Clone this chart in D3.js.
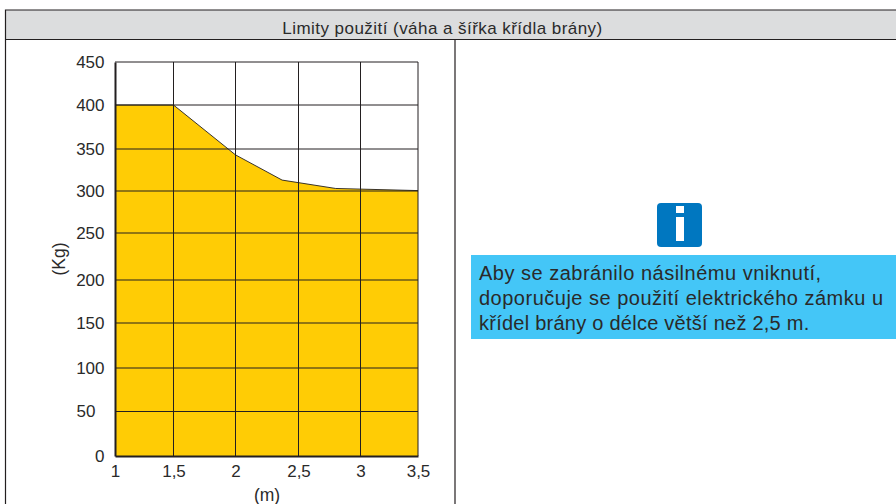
<!DOCTYPE html>
<html>
<head>
<meta charset="utf-8">
<script src="https://cdn.jsdelivr.net/npm/d3@7"></script>
<style>
    html, body { margin: 0; padding: 0; background: #fff; overflow: hidden; }
    text { font-family: "Liberation Sans", Arial, sans-serif; fill: #2a2a2a; }
</style>
</head>
<body>
<div id="chart"></div>
<script>
const xTicks = [1, 1.5, 2, 2.5, 3, 3.5];
const xTickLabels = ['1', '1,5', '2', '2,5', '3', '3,5'];
const yTicks = [0, 50, 100, 150, 200, 250, 300, 350, 400, 450];

// limit curve: gate leaf width (m) / weight (kg)
const leafWidth = [1, 1.5, 2, 2.37, 2.8, 3.5];
const leafWeight = [400, 400, 343, 313, 303, 300.5];

const title = 'Limity použití (váha a šířka křídla brány)';
const noteLines = [
    'Aby se zabránilo násilnému vniknutí,',
    'doporučuje se použití elektrického zámku u',
    'křídel brány o délce větší než 2,5 m.'
];

const width = 896, height = 504;
const lineColor = '#231f20';

const svg = d3.select('#chart').append('svg')
    .attr('width', width)
    .attr('height', height)
    .style('display', 'block');

// the printed grid is not quite even, so the scales follow the grid lines
const scaleX = d3.scaleLinear()
    .domain(xTicks)
    .range([115, 173.5, 235.5, 298.5, 360.5, 418]);

const scaleY = d3.scaleLinear()
    .domain(yTicks)
    .range([456, 411.5, 368, 323, 280, 233, 191, 149, 105, 62]);

// Table frame
svg.append('rect')
    .attr('x', 5.5).attr('y', 10)
    .attr('width', 900).attr('height', 30)
    .attr('fill', '#dcddde');

svg.append('path')
    .attr('d', 'M5.5,510V10H900M5.5,39.5H900M455,39.5V510')
    .attr('fill', 'none')
    .attr('stroke', lineColor)
    .attr('stroke-width', 1.2);

svg.append('text')
    .attr('x', 442.5)
    .attr('y', 33.5)
    .attr('text-anchor', 'middle')
    .style('font-size', '17px')
    .style('letter-spacing', '0.45px')
    .text(title);

// Area under the limit curve
const points = leafWidth.map((w, i) => [w, leafWeight[i]]);

const area = d3.area()
    .x(d => scaleX(d[0]))
    .y0(scaleY(0))
    .y1(d => scaleY(d[1]));

const line = d3.line()
    .x(d => scaleX(d[0]))
    .y(d => scaleY(d[1]));

svg.append('path')
    .datum(points)
    .attr('d', area)
    .attr('fill', '#ffcc05');

// Grid
const grid = svg.append('g')
    .attr('stroke', lineColor)
    .attr('stroke-width', 1);

grid.selectAll('.v')
    .data(xTicks.slice(1))
    .join('line')
    .attr('class', 'v')
    .attr('x1', d => scaleX(d)).attr('x2', d => scaleX(d))
    .attr('y1', scaleY(450)).attr('y2', scaleY(0));

grid.selectAll('.h')
    .data(yTicks.slice(1))
    .join('line')
    .attr('class', 'h')
    .attr('x1', scaleX(1)).attr('x2', scaleX(3.5))
    .attr('y1', d => scaleY(d)).attr('y2', d => scaleY(d));

svg.append('path')
    .datum(points)
    .attr('d', line)
    .attr('fill', 'none')
    .attr('stroke', lineColor)
    .attr('stroke-width', 0.9);

// Axes
const axisX = d3.axisBottom(scaleX)
    .tickValues(xTicks)
    .tickFormat((d, i) => xTickLabels[i])
    .tickSize(0)
    .tickPadding(9);

const axisY = d3.axisLeft(scaleY)
    .tickValues(yTicks)
    .tickSize(0)
    .tickPadding(10.5);

const gx = svg.append('g')
    .attr('transform', `translate(0, ${scaleY(0)})`)
    .call(axisX);

const gy = svg.append('g')
    .attr('transform', `translate(${scaleX(1)}, 0)`)
    .call(axisY);

gx.selectAll('text').style('font-size', '17px');
gy.selectAll('text').style('font-size', '17px');

// the 50 label sits further left in the original
gy.selectAll('.tick').filter(d => d === 50).select('text').attr('dx', -9);

gx.select('.domain').attr('stroke', lineColor).attr('stroke-width', 2);
gy.select('.domain').attr('stroke', lineColor).attr('stroke-width', 2);

svg.append('text')
    .attr('x', 267)
    .attr('y', 501)
    .attr('text-anchor', 'middle')
    .style('font-size', '17.5px')
    .text('(m)');

svg.append('text')
    .attr('transform', 'translate(65, 259) rotate(-90)')
    .attr('text-anchor', 'middle')
    .style('font-size', '17.5px')
    .text('(Kg)');

// Info icon and note
svg.append('rect')
    .attr('x', 657).attr('y', 203)
    .attr('width', 45).attr('height', 44)
    .attr('rx', 4)
    .attr('fill', '#0077c0');

svg.append('rect')
    .attr('x', 676).attr('y', 206)
    .attr('width', 8).attr('height', 7)
    .attr('fill', '#fff');

svg.append('rect')
    .attr('x', 676).attr('y', 217)
    .attr('width', 8).attr('height', 24)
    .attr('fill', '#fff');

svg.append('rect')
    .attr('x', 471).attr('y', 255)
    .attr('width', 425).attr('height', 84)
    .attr('fill', '#44c6f7');

svg.selectAll('.note')
    .data(noteLines)
    .join('text')
    .attr('class', 'note')
    .attr('x', 479)
    .attr('y', (d, i) => 279.5 + i * 25.4)
    .style('font-size', '20px')
    .style('letter-spacing', (d, i) => i === 2 ? '0.25px' : '0.5px')
    .text(d => d);
</script>
</body>
</html>
